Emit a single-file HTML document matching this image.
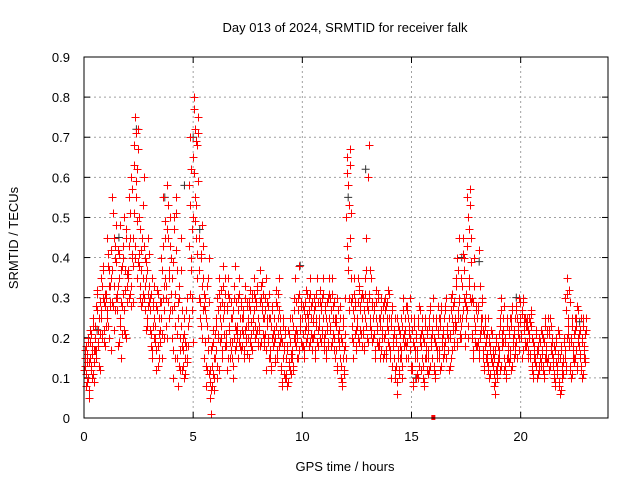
<!DOCTYPE html>
<html><head><meta charset="utf-8"><style>
body{margin:0;background:#fff}
svg{display:block;font-family:"Liberation Sans",sans-serif;font-size:13px}
</style></head><body>
<svg id="chart" width="640" height="480">
<rect width="640" height="480" fill="#fff"/>
<text x="345" y="32" text-anchor="middle">Day 013 of 2024, SRMTID for receiver falk</text>
<g id="grid"></g>
<g id="ticks"></g>
<g id="marks"></g>
<rect x="84" y="57" width="524" height="361" fill="none" stroke="#000"/>
<text x="345" y="471" text-anchor="middle">GPS time / hours</text>
<text transform="translate(18,238) rotate(-90)" text-anchor="middle">SRMTID / TECUs</text>
</svg>
<script>
const xTicks=[0,5,10,15,20];
const yTicks=[0,0.1,0.2,0.3,0.4,0.5,0.6,0.7,0.8,0.9];
const yTickLabels=["0","0.1","0.2","0.3","0.4","0.5","0.6","0.7","0.8","0.9"];
const binStart=[0,0.25,0.5,0.75,1,1.25,1.5,1.75,2,2.25,2.5,2.75,3,3.25,3.5,3.75,4,4.25,4.5,4.75,5,5.25,5.5,5.75,6,6.25,6.5,6.75,7,7.25,7.5,7.75,8,8.25,8.5,8.75,9,9.25,9.5,9.75,10,10.25,10.5,10.75,11,11.25,11.5,11.75,12,12.25,12.5,12.75,13,13.25,13.5,13.75,14,14.25,14.5,14.75,15,15.25,15.5,15.75,16,16.25,16.5,16.75,17,17.25,17.5,17.75,18,18.25,18.5,18.75,19,19.25,19.5,19.75,20,20.25,20.5,20.75,21,21.25,21.5,21.75,22,22.25,22.5,22.75];
const redValues=[
[12,15,8,18,14,10,20,5],[15,22,12,18,10,25,14,17],[20,28,15,32,22,18,25,12],[25,35,20,30,38,22,28,18],
[30,45,25,38,20,33,28,42],[35,55,28,45,22,40,30,48],[30,42,18,35,25,48,15,38],[28,40,22,50,32,45,20,36],
[35,55,30,45,28,60,40,38],[45,68,40,75,55,62,35,72],[38,50,30,42,28,45,35,60],[30,40,22,35,25,45,28,33],
[22,30,18,35,15,28,25,20],[20,28,12,32,18,25,15,22],[25,40,15,55,30,20,45,35],[30,58,20,45,35,25,50,40],
[20,35,10,50,28,15,55,42],[15,25,8,30,20,12,45,18],[12,20,10,25,15,18,30,14],[18,58,25,70,40,62,30,50],
[65,80,55,72,45,68,35,75],[30,45,25,40,20,48,35,28],[15,30,8,25,12,35,20,40],[5,12,1,18,8,22,10,15],
[15,25,10,30,20,35,12,28],[20,32,15,38,25,28,18,35],[18,28,12,35,22,30,15,25],[15,25,10,30,20,38,18,22],
[20,30,15,35,25,18,28,22],[18,25,15,30,22,20,28,16],[20,28,15,32,24,18,30,22],[25,35,20,30,28,22,32,18],
[22,37,18,30,28,34,25,20],[18,30,12,35,25,20,28,15],[15,25,12,28,20,18,22,14],[20,32,15,28,25,18,35,22],
[12,20,8,25,15,18,10,22],[10,18,8,22,14,25,12,16],[15,25,12,30,20,35,18,22],[20,30,15,38,25,22,28,18],
[18,28,15,25,22,32,20,26],[22,30,18,35,25,28,20,24],[20,30,15,28,25,35,18,22],[25,32,20,28,30,22,35,18],
[20,28,15,25,22,30,18,35],[22,30,18,35,25,28,20,24],[15,25,12,30,20,22,18,28],[10,20,8,25,15,12,30,18],
[50,65,40,58,30,67,45,35],[20,30,15,35,25,28,18,22],[25,35,20,32,28,22,30,18],[22,30,18,35,25,45,28,20],
[60,68,30,25,35,22,28,20],[20,28,15,32,25,22,30,18],[18,25,15,30,22,20,28,16],[20,30,15,28,25,22,32,18],
[15,25,10,28,20,18,22,12],[10,20,6,25,15,12,22,18],[15,25,10,30,20,18,22,28],[18,28,15,25,22,20,30,12],
[12,22,8,25,18,15,20,10],[15,25,10,28,20,18,12,22],[10,20,8,25,15,18,12,22],[15,25,12,28,20,18,22,30],
[12,20,10,25,18,15,22,28],[15,25,12,28,20,18,22,16],[18,28,15,30,22,20,25,12],[20,30,15,25,22,28,18,24],
[22,35,18,40,25,45,30,20],[20,35,25,45,40,30,18,28],[25,55,20,50,35,57,30,45],[20,30,15,40,25,22,28,18],
[18,28,15,42,20,25,22,30],[15,22,12,25,18,20,16,14],[12,20,10,18,15,22,14,16],[8,15,6,20,12,10,18,14],
[15,25,12,30,20,18,22,28],[12,20,10,25,15,18,14,22],[15,25,12,28,20,18,22,16],[18,28,15,25,22,20,30,24],
[20,26,15,30,22,25,18,24],[18,25,15,22,20,24,16,26],[12,20,10,18,15,14,22,16],[10,18,12,20,15,14,22,16],
[12,20,10,25,15,18,14,22],[15,22,12,25,18,20,16,14],[10,18,8,20,14,12,16,22],[8,15,6,18,12,10,14,20],
[15,30,12,35,20,25,18,32],[12,20,10,25,15,18,14,22],[15,25,12,28,20,18,22,16],[12,20,10,25,15,18,14,22]];
const redValuesB=[
[13,17,11,9,16,19,7,14],[19,13,21,16,11,23,9,17],[23,17,27,31,19,13,21,29],[27,33,21,37,29,19,31,23],
[31,27,41,23,37,29,33,17],[29,37,51,33,43,27,39,31],[27,33,19,41,23,29,37,21],[31,43,27,37,21,47,29,33],
[37,43,31,51,33,41,57,29],[51,63,43,71,59,49,67,39],[41,33,47,37,29,53,31,43],[33,27,39,23,37,31,29,41],
[27,21,31,17,29,23,33,19],[23,17,27,13,31,21,19,29],[29,37,21,43,33,27,49,23],[33,47,29,53,37,43,27,31],
[27,39,17,47,31,23,51,37],[21,29,13,33,17,23,37,27],[17,13,21,11,19,27,15,23],[23,43,31,53,37,27,47,19],
[61,77,49,69,53,41,59,71],[37,29,41,23,33,43,27,31],[19,27,13,33,23,17,29,11],[9,17,7,13,11,19,7,21],
[17,23,13,27,21,31,19,25],[23,29,17,33,27,21,31,19],[21,27,15,31,23,19,29,17],[19,27,13,33,23,17,29,21],
[23,27,19,31,21,29,17,25],[21,27,17,33,23,19,29,25],[23,29,19,27,21,31,17,25],[27,31,23,29,21,33,25,19],
[23,29,19,33,27,21,31,25],[21,27,17,29,23,19,31,25],[17,23,13,27,21,19,25,15],[23,29,17,31,21,27,19,25],
[13,19,9,23,17,11,21,15],[11,17,9,21,13,19,15,11],[17,23,13,27,21,19,29,15],[21,27,17,31,23,19,29,25],
[21,27,17,29,23,19,31,25],[23,27,19,31,21,29,17,25],[21,27,17,31,23,19,29,25],[23,29,19,27,21,31,25,17],
[21,27,17,29,23,19,31,25],[23,27,19,31,21,29,17,25],[17,23,13,27,21,19,25,15],[13,19,9,23,17,11,21,15],
[43,61,37,53,27,63,51,29],[23,27,19,31,21,29,17,25],[23,29,19,33,27,21,31,25],[21,27,17,31,23,37,29,19],
[27,31,23,37,21,29,19,25],[21,27,17,29,23,19,31,25],[19,23,17,27,21,25,15,29],[21,27,17,29,23,19,25,31],
[17,23,13,27,19,21,15,25],[13,19,9,23,17,11,21,15],[17,23,13,27,21,19,25,15],[19,27,15,23,21,17,25,13],
[13,19,9,23,17,15,21,11],[17,23,13,27,19,21,15,25],[13,19,9,23,17,15,21,11],[17,23,13,27,19,21,15,25],
[13,19,11,23,17,15,21,25],[17,23,13,27,19,21,15,25],[19,27,15,23,21,17,25,13],[21,27,17,31,23,19,29,25],
[23,33,19,37,27,29,21,25],[23,33,27,41,37,29,21,31],[27,43,23,47,33,53,29,39],[21,29,17,33,23,19,27,25],
[19,27,17,33,21,23,29,25],[17,21,13,23,19,15,21,25],[13,19,11,17,15,21,13,17],[11,17,9,19,13,11,15,21],
[17,23,13,27,21,19,25,15],[13,19,11,23,17,15,21,25],[17,23,13,27,19,21,15,25],[19,27,15,23,21,17,25,29],
[21,27,17,29,23,25,19,23],[19,23,17,21,25,15,23,27],[13,19,11,17,15,21,13,17],[11,17,13,19,15,13,21,17],
[13,19,11,23,17,15,21,25],[15,21,13,23,17,19,15,13],[11,17,9,19,13,11,15,21],[9,15,7,17,13,11,15,19],
[17,27,13,31,21,23,19,29],[13,19,11,23,17,15,21,25],[17,23,13,27,19,21,15,25],[13,19,11,23,17,15,21,25]];
const blackTimes=[0.6,1.6,2.4,3.7,4.6,5.0,5.3,9.9,12.1,12.9,15.2,17.3,18.1,19.8,22.7];
const blackValues=[0.22,0.45,0.72,0.55,0.58,0.70,0.47,0.38,0.55,0.62,0.1,0.40,0.39,0.3,0.24];
const zeroTimes=[16.0];
const zeroValues=[0];

const X0=84,X1=608,Y0=418,Y1=57,XMAX=24,YMAX=0.9;
const xs=v=>X0+(v/XMAX)*(X1-X0);
const ys=v=>Y0-(v/YMAX)*(Y0-Y1);
const NS="http://www.w3.org/2000/svg";
const grid=document.getElementById('grid'),ticks=document.getElementById('ticks'),marks=document.getElementById('marks');
function mk(tag,attrs,parent){const e=document.createElementNS(NS,tag);for(const k in attrs)e.setAttribute(k,attrs[k]);parent.appendChild(e);return e;}
xTicks.forEach(t=>{const x=xs(t);
 if(t>0){const g=mk('line',{x1:x,x2:x,y1:Y0,y2:Y1,stroke:'#a0a0a0','stroke-dasharray':'2,3'},grid);
 
 }
 const l=mk('text',{x:x,y:Y0+23,'text-anchor':'middle'},ticks);l.textContent=t;
 
 
 mk('line',{x1:x,x2:x,y1:Y0,y2:Y0-6,stroke:'#000'},ticks);
 mk('line',{x1:x,x2:x,y1:Y1,y2:Y1+6,stroke:'#000'},ticks);});
yTicks.forEach((t,i)=>{const y=ys(t);
 if(t>0&&t<YMAX){const g=mk('line',{x1:X0,x2:X1,y1:y,y2:y,stroke:'#a0a0a0','stroke-dasharray':'2,3'},grid);
 
 }
 const l=mk('text',{x:X0-14,y:y+5,'text-anchor':'end'},ticks);l.textContent=yTickLabels[i];
 
 
 mk('line',{x1:X0,x2:X0+6,y1:y,y2:y,stroke:'#000'},ticks);
 mk('line',{x1:X1,x2:X1-6,y1:y,y2:y,stroke:'#000'},ticks);});
function plus(x,y){return `M${x-4},${y}h8M${x},${y-4}v8`;}
let d='';
blackTimes.forEach((t,i)=>{d+=plus(xs(t),ys(blackValues[i]));});
const pb=mk('path',{d:d,stroke:'#333',fill:'none','stroke-width':1},marks);


d='';
function addBins(arr,offset){binStart.forEach((b,i)=>{const vals=arr[i];vals.forEach((v,j)=>{const t=b+(j+offset)*0.25/vals.length;d+=plus(Math.round(xs(t))+0.5,Math.round(ys(v/100))+0.5);});});}
addBins(redValues,0.25);
addBins(redValuesB,0.75);
const pr=mk('path',{d:d,stroke:'#f00',fill:'none','stroke-width':1},marks);


zeroTimes.forEach((t,i)=>{const r=mk('rect',{x:xs(t)-2,y:ys(zeroValues[i])-3,width:4,height:5,fill:'#f00'},marks);
 
 });
</script>
</body></html>
